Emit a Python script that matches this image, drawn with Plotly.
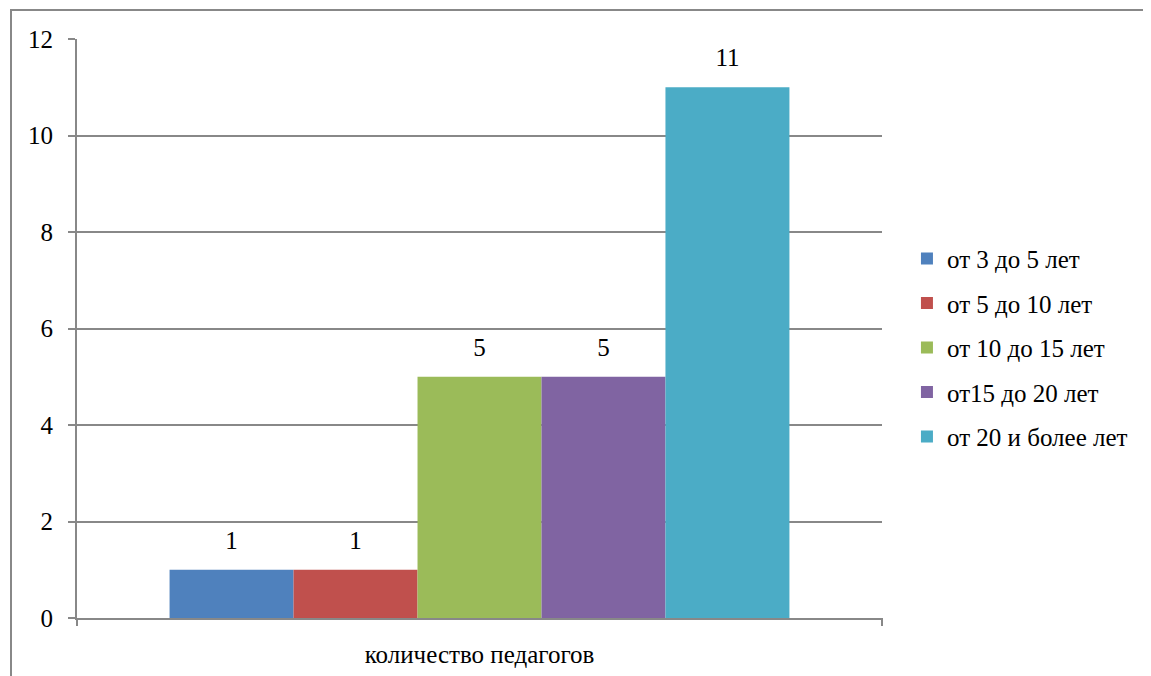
import plotly.graph_objects as go

categories = ["количество педагогов"]
series_names = ["от 3 до 5 лет", "от 5 до 10 лет", "от 10 до 15 лет", "от15 до 20 лет", "от 20 и более лет"]
series_values = [[1], [1], [5], [5], [11]]
colors = ["#4F81BD", "#C0504D", "#9BBB59", "#8064A2", "#4BACC6"]
y_ticks = [0, 2, 4, 6, 8, 10, 12]

FONT = "'Liberation Serif', 'DejaVu Serif', serif"
FS = 25

fig = go.Figure()
for i, (name, vals) in enumerate(zip(series_names, series_values)):
    fig.add_trace(go.Bar(
        x=categories, y=vals, name=name,
        marker=dict(color=colors[i], line=dict(width=0)),
        legendgroup=f"g{i}", offsetgroup=f"o{i}",
        hoverinfo="skip",
    ))
for i, (name, vals) in enumerate(zip(series_names, series_values)):
    fig.add_trace(go.Scatter(
        x=categories, y=vals, mode="markers+text",
        marker=dict(size=22, opacity=0),
        text=[str(v) for v in vals], textposition="top center",
        textfont=dict(family=FONT, size=FS, color="black"),
        cliponaxis=False, showlegend=False, hoverinfo="skip",
        offsetgroup=f"o{i}",
    ))

fig.update_layout(
    width=1151, height=676,
    margin=dict(l=69, r=277, t=31, b=66),
    paper_bgcolor="white", plot_bgcolor="white",
    barmode="group", bargap=0.23, bargroupgap=0,
    scattermode="group", scattergap=0.23,
    font=dict(family=FONT, size=FS, color="black"),
    showlegend=True,
    legend=dict(
        x=1.031, xanchor="left", y=0.66, yanchor="top",
        font=dict(family=FONT, size=FS, color="black"),
        traceorder="grouped", tracegroupgap=9,
        itemwidth=30, bgcolor="rgba(0,0,0,0)",
    ),
    xaxis=dict(
        showline=True, linecolor="#888888", linewidth=2,
        ticks="", showgrid=False,
        tickfont=dict(family=FONT, size=FS, color="black"),
        ticklabelstandoff=13,
    ),
    yaxis=dict(
        range=[0, 12], tickvals=y_ticks,
        showline=True, linecolor="#888888", linewidth=2,
        ticks="outside", ticklen=7, tickcolor="#888888", tickwidth=2,
        showgrid=True, gridcolor="#888888", gridwidth=1.5,
        zeroline=False,
        tickfont=dict(family=FONT, size=FS, color="black"),
        ticklabelstandoff=10,
    ),
    shapes=[
        dict(type="rect", xref="paper", yref="paper",
             x0=(11 - 77) / 805, x1=1.5, y0=-0.5, y1=(618 - 10) / 579,
             line=dict(color="#888888", width=2), fillcolor="rgba(0,0,0,0)", layer="below"),
        dict(type="line", xref="paper", yref="paper",
             x0=1, x1=1, y0=0, y1=-8 / 579,
             line=dict(color="#888888", width=2)),
        dict(type="line", xref="paper", yref="paper",
             x0=0, x1=0, y0=0, y1=-8 / 579,
             line=dict(color="#888888", width=2)),
    ],
)

fig.write_html("out.html")
